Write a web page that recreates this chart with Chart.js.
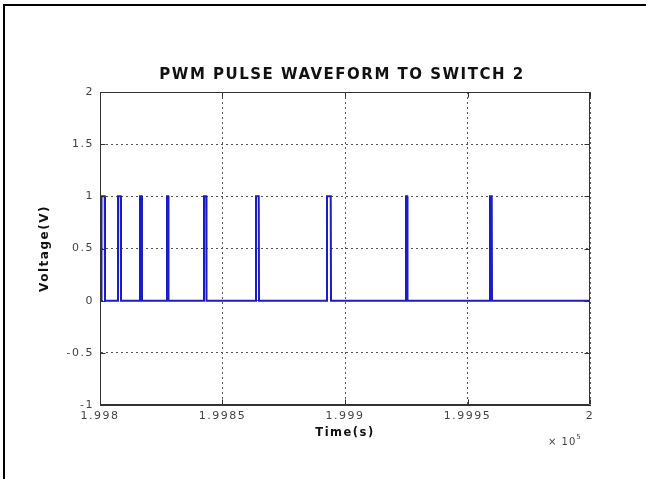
<!DOCTYPE html>
<html><head><meta charset="utf-8">
<script src="https://cdn.jsdelivr.net/npm/chart.js@4"></script>
<style>
html,body{margin:0;padding:0;background:#fff;}
#wrap{position:relative;width:646px;height:479px;overflow:hidden;background:#fff;}
#frame{position:absolute;left:3px;top:4px;width:700px;height:600px;border-top:2px solid #000;border-left:2px solid #000;pointer-events:none;}
canvas{position:absolute;left:0;top:0;}
</style></head><body>
<div id="wrap"><canvas id="c" width="646" height="479"></canvas><div id="frame"></div></div>
<script>
// ---- data (time in units of x 10^5 s, voltage in V) ----
const pulseRise    = [1.9980061, 1.9980735, 1.9981633, 1.9982735, 1.9984245, 1.9986367, 1.9989265, 1.9992490, 1.9995918];
const pulseTopEnd  = [1.9980192, 1.9980845, 1.9981702, 1.9982784, 1.9984335, 1.9986478, 1.9989417, 1.9992539, 1.9995988];
const pulseFallEnd = [1.9980204, 1.9980857, 1.9981714, 1.9982796, 1.9984347, 1.9986490, 1.9989429, 1.9992551, 1.9996000];
const pulseHigh = 1;
const pulseLow = 0;
const xStart = 1.998;
const xEnd = 2.0;
const xTickValues = [1.998, 1.9985, 1.999, 1.9995, 2];
const xTickLabels = ['1.998', '1.9985', '1.999', '1.9995', '2'];
const yTickValues = [-1, -0.5, 0, 0.5, 1, 1.5, 2];
const yTickLabels = ['-1', '-0.5', '0', '0.5', '1', '1.5', '2'];
const titleText = 'PWM PULSE WAVEFORM TO SWITCH 2';
const xAxisTitle = 'Time(s)';
const yAxisTitle = 'Voltage(V)';
const xExponentBase = '\u00d7 10';
const xExponent = '5';

// build line vertices from the read values
const points = [{x: xStart, y: pulseLow}];
pulseRise.forEach((r, i) => {
  points.push({x: r, y: pulseLow}, {x: r, y: pulseHigh}, {x: pulseTopEnd[i], y: pulseHigh}, {x: pulseFallEnd[i], y: pulseLow});
});
points.push({x: xEnd, y: pulseLow});

const FONT = "'DejaVu Sans', Verdana, sans-serif";
const SPACING = '1.5px';

const spacingPlugin = {
  id: 'spacing',
  beforeUpdate(chart) { chart.ctx.letterSpacing = SPACING; },
  beforeLayout(chart) { chart.ctx.letterSpacing = SPACING; },
  afterLayout(chart) {
    // centre the title over the plot box (as in the original figure)
    const t = chart.titleBlock;
    if (t) { t.left = chart.chartArea.left - 6; t.right = chart.chartArea.right; }
  },
  beforeDraw(chart) { chart.ctx.letterSpacing = SPACING; }
};

const boxPlugin = {
  id: 'matlabBox',
  afterDraw(chart) {
    const ctx = chart.ctx;
    const a = chart.chartArea;
    const xs = chart.scales.x, ys = chart.scales.y;
    const L = Math.round(a.left) + 0.5, R = Math.round(a.right) - 0.5;
    const T = Math.round(a.top) + 0.5, B = Math.round(a.bottom) - 0.5;
    ctx.save();
    ctx.letterSpacing = '0px';
    ctx.strokeStyle = '#333';
    ctx.lineWidth = 1;
    ctx.setLineDash([]);
    ctx.beginPath();
    ctx.moveTo(L, T); ctx.lineTo(R, T); ctx.lineTo(R, B); ctx.lineTo(L, B); ctx.closePath();
    const tl = 5;
    xTickValues.forEach(v => {
      const px = Math.round(xs.getPixelForValue(v)) + 0.5;
      ctx.moveTo(px, B); ctx.lineTo(px, B - tl);
      ctx.moveTo(px, T); ctx.lineTo(px, T + tl);
    });
    yTickValues.forEach(v => {
      const py = Math.round(ys.getPixelForValue(v)) + 0.5;
      ctx.moveTo(L, py); ctx.lineTo(L + tl, py);
      ctx.moveTo(R, py); ctx.lineTo(R - tl, py);
    });
    ctx.stroke();
    // exponent label
    ctx.letterSpacing = '1px';
    ctx.fillStyle = '#444';
    ctx.textAlign = 'left';
    ctx.textBaseline = 'middle';
    ctx.font = '10px ' + FONT;
    const ex = a.right - 42, ey = a.bottom + 37;
    ctx.fillText(xExponentBase, ex, ey);
    const w = ctx.measureText(xExponentBase).width;
    ctx.font = '7px ' + FONT;
    ctx.fillText(xExponent, ex + w, ey - 5);
    ctx.restore();
  }
};

new Chart(document.getElementById('c'), {
  type: 'line',
  data: {
    datasets: [{
      data: points,
      borderColor: 'rgb(28,28,195)',
      borderWidth: 2,
      pointRadius: 0,
      tension: 0,
      fill: false,
      borderJoinStyle: 'miter'
    }]
  },
  options: {
    responsive: false,
    animation: false,
    devicePixelRatio: 1,
    layout: { padding: { left: 0, right: 56, top: 0, bottom: 0 } },
    plugins: {
      legend: { display: false },
      tooltip: { enabled: false },
      title: {
        display: true,
        text: titleText,
        color: '#111',
        font: { family: FONT, size: 15, weight: 'bold' },
        padding: { top: 66.5, bottom: 7.5 }
      }
    },
    scales: {
      x: {
        type: 'linear',
        position: 'bottom',
        min: xStart,
        max: xEnd,
        afterBuildTicks(scale) { scale.ticks = xTickValues.map(v => ({value: v})); },
        afterFit(scale) { scale.height = 74; },
        ticks: {
          color: '#444',
          font: { family: FONT, size: 11 },
          padding: 5,
          maxRotation: 0,
          autoSkip: false,
          callback(value) { const i = xTickValues.findIndex(t => Math.abs(t - value) < 1e-9); return i >= 0 ? xTickLabels[i] : ''; }
        },
        grid: { color: '#555', lineWidth: 1, drawTicks: false },
        border: { display: true, color: '#333', width: 1, dash: [2, 3] },
        title: {
          display: true,
          text: xAxisTitle,
          color: '#111',
          font: { family: FONT, size: 11.5, weight: 'bold' },
          padding: { top: 0, bottom: 39.1 }
        }
      },
      y: {
        type: 'linear',
        position: 'left',
        min: -1,
        max: 2,
        afterBuildTicks(scale) { scale.ticks = yTickValues.map(v => ({value: v})); },
        afterFit(scale) { scale.width = 100; },
        ticks: {
          color: '#444',
          font: { family: FONT, size: 11 },
          padding: 6,
          autoSkip: false,
          callback(value) { const i = yTickValues.findIndex(t => Math.abs(t - value) < 1e-9); return i >= 0 ? yTickLabels[i] : ''; }
        },
        grid: { color: '#555', lineWidth: 1, drawTicks: false },
        border: { display: true, color: '#333', width: 1, dash: [2, 3] },
        title: {
          display: true,
          text: yAxisTitle,
          color: '#111',
          font: { family: FONT, size: 12, weight: 'bold' },
          padding: { top: 37.8, bottom: 0 }
        }
      }
    }
  },
  plugins: [spacingPlugin, boxPlugin]
});
</script>
</body></html>
